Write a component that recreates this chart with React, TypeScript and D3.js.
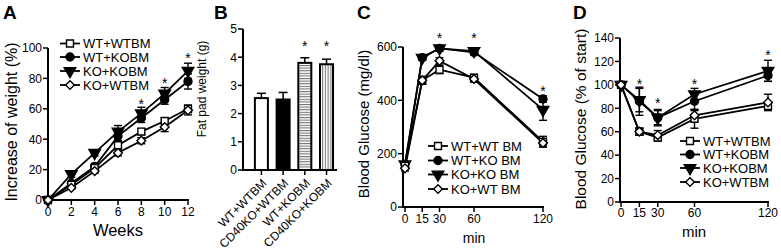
import React from 'react';
import * as d3 from 'd3';

const FONT = "'Liberation Sans', Arial, Helvetica, sans-serif";

// ---------- Panel A data ----------
const weeks = [0, 2, 4, 6, 8, 10, 12];
const aNames = ['WT+WTBM', 'WT+KOBM', 'KO+KOBM', 'KO+WTBM'];
const aWTWT = [0, 10, 21, 36, 45, 52, 60];
const aWTWTerr = [0, 1, 1.5, 2, 2, 2, 2.5];
const aWTKO = [0, 11, 22, 42, 54, 66, 78];
const aWTKOerr = [0, 1, 2, 3, 3, 3, 5];
const aKOKO = [0, 17, 31, 45, 57, 70, 85];
const aKOKOerr = [0, 2, 2, 4, 4, 4, 5];
const aKOWT = [0, 8, 19, 31, 39, 48, 59];
const aKOWTerr = [0, 1, 1.5, 2, 2, 3, 3];
const aStarX = [8, 10, 12];
const aStarY = [65, 79, 95];
const aYTicks = [0, 20, 40, 60, 80, 100];
const aXTicks = [0, 2, 4, 6, 8, 10, 12];

// ---------- Panel B data ----------
const bCats = ['WT+WTBM', 'CD40KO+WTBM', 'WT+KOBM', 'CD40KO+KOBM'];
const bVals = [2.55, 2.5, 3.8, 3.75];
const bErrs = [0.17, 0.25, 0.18, 0.18];
const bStarCats = ['WT+KOBM', 'CD40KO+KOBM'];
const bStarY = [4.5, 4.5];
const bYTicks = [0, 1, 2, 3, 4, 5];

// ---------- Panel C data ----------
const cMin = [0, 15, 30, 60, 120];
const cNames = ['WT+WT BM', 'WT+KO BM', 'KO+KO BM', 'KO+WT BM'];
const cWTWT = [155, 475, 515, 485, 245];
const cWTWTerr = [10, 15, 15, 12, 20];
const cWTKO = [160, 560, 595, 580, 405];
const cWTKOerr = [10, 10, 10, 10, 12];
const cKOKO = [160, 560, 595, 585, 365];
const cKOKOerr = [10, 10, 10, 10, 40];
const cKOWT = [145, 475, 548, 480, 240];
const cKOWTerr = [10, 12, 12, 12, 15];
const cStarX = [30, 60, 120];
const cStarY = [645, 645, 446];
const cYTicks = [0, 200, 400, 600];
const cXTicks = [0, 15, 30, 60, 120];

// ---------- Panel D data ----------
const dMin = [0, 15, 30, 60, 120];
const dNames = ['WT+WTBM', 'WT+KOBM', 'KO+KOBM', 'KO+WTBM'];
const dWTWT = [100, 60, 55, 71, 82];
const dWTWTerr = [0, 3, 3, 8, 3];
const dWTKO = [100, 86, 72, 86, 108];
const dWTKOerr = [0, 12, 7, 8, 5];
const dKOKO = [100, 87, 72, 92, 112];
const dKOKOerr = [0, 10, 6, 5, 9];
const dKOWT = [100, 60, 57, 74, 85];
const dKOWTerr = [0, 3, 4, 5, 7];
const dStarX = [15, 30, 60, 120];
const dStarY = [103, 87, 103, 128];
const dYTicks = [0, 20, 40, 60, 80, 100, 120, 140];
const dXTicks = [0, 15, 30, 60, 120];

type Marker = 'square' | 'circle' | 'triangle' | 'diamond';
const MARKERS: Marker[] = ['square', 'circle', 'triangle', 'diamond'];

function Mark({ m, x, y }: { m: Marker; x: number; y: number }) {
  const filled = m === 'circle' || m === 'triangle';
  const type = m === 'circle' ? d3.symbolCircle : m === 'triangle' ? d3.symbolTriangle : d3.symbolSquare;
  const size = m === 'square' ? 48 : m === 'circle' ? 50 : m === 'triangle' ? 58 : 38;
  let tr = `translate(${x},${y})`;
  if (m === 'triangle') tr += ' rotate(180)';
  if (m === 'diamond') tr += ' rotate(45)';
  return (
    <path
      d={d3.symbol(type, size)() as string}
      transform={tr}
      fill={filled ? '#000' : '#fff'}
      stroke="#000"
      strokeWidth={1.4}
    />
  );
}

interface Series { values: number[]; errs: number[]; marker: Marker; }

interface LineProps {
  xs: number[];
  xScale: d3.ScaleLinear<number, number>;
  yScale: d3.ScaleLinear<number, number>;
  axisX: number;
  series: Series[];
  drawOrder: number[];
  xTicks: number[];
  yTicks: number[];
  starX: number[];
  starY: number[];
  tickFs: number;
  xTickDy: number;
  yLabel: string;
  yLabelX: number;
  yLabelY: number;
  yLabelFs: number;
  xLabel: string;
  xLabelX: number;
  xLabelY: number;
  xLabelFs: number;
  legendNames: string[];
  legendX: number;
  legendYs: number[];
  legendFs: number;
}

function LinePanel(p: LineProps) {
  const y0 = p.yScale.range()[0];
  const yTop = p.yScale.range()[1];
  const xEnd = p.xScale.range()[1];
  const line = d3
    .line<number>()
    .x((_, i) => p.xScale(p.xs[i]))
    .y((d) => p.yScale(d));
  return (
    <g fontFamily={FONT}>
      <line x1={p.axisX} x2={p.axisX} y1={y0 + 1} y2={yTop} stroke="#000" strokeWidth={2} />
      <line x1={p.axisX - 1} x2={xEnd + 1} y1={y0} y2={y0} stroke="#000" strokeWidth={2} />
      {p.yTicks.map((t) => (
        <g key={'y' + t}>
          <line x1={p.axisX - 5} x2={p.axisX} y1={p.yScale(t)} y2={p.yScale(t)} stroke="#000" strokeWidth={1.5} />
          <text x={p.axisX - 6} y={p.yScale(t)} dy="0.36em" textAnchor="end" fontSize={p.tickFs}>
            {t}
          </text>
        </g>
      ))}
      {p.xTicks.map((t) => (
        <g key={'x' + t}>
          <line x1={p.xScale(t)} x2={p.xScale(t)} y1={y0} y2={y0 + 5} stroke="#000" strokeWidth={1.5} />
          <text x={p.xScale(t)} y={y0 + p.xTickDy} textAnchor="middle" fontSize={p.tickFs}>
            {t}
          </text>
        </g>
      ))}
      {p.drawOrder.map((si) => (
        <path key={'l' + si} d={line(p.series[si].values) as string} fill="none" stroke="#000" strokeWidth={1.8} />
      ))}
      {p.drawOrder.map((si) =>
        p.series[si].values.map((v, i) => {
          const e = p.series[si].errs[i];
          if (!e) return null;
          const x = p.xScale(p.xs[i]);
          const yHi = p.yScale(v + e);
          const yLo = p.yScale(v - e);
          return (
            <g key={'e' + si + '-' + i} stroke="#000" strokeWidth={1.4}>
              <line x1={x} x2={x} y1={yHi} y2={yLo} />
              <line x1={x - 4} x2={x + 4} y1={yHi} y2={yHi} />
              <line x1={x - 4} x2={x + 4} y1={yLo} y2={yLo} />
            </g>
          );
        })
      )}
      {p.drawOrder.map((si) =>
        p.series[si].values.map((v, i) => (
          <Mark key={'m' + si + '-' + i} m={p.series[si].marker} x={p.xScale(p.xs[i])} y={p.yScale(v)} />
        ))
      )}
      {p.starX.map((sx, i) => (
        <text key={'s' + i} x={p.xScale(sx)} y={p.yScale(p.starY[i])} dy="0.55em" textAnchor="middle" fontSize={14}>
          *
        </text>
      ))}
      {p.legendNames.map((n, i) => (
        <g key={'lg' + i}>
          <line x1={p.legendX} x2={p.legendX + 20} y1={p.legendYs[i]} y2={p.legendYs[i]} stroke="#000" strokeWidth={1.8} />
          <Mark m={p.series[i].marker} x={p.legendX + 10} y={p.legendYs[i]} />
          <text x={p.legendX + 23} y={p.legendYs[i]} dy="0.36em" fontSize={p.legendFs}>
            {n}
          </text>
        </g>
      ))}
      <text
        transform={`translate(${p.yLabelX},${p.yLabelY}) rotate(-90)`}
        textAnchor="middle"
        dy="0.36em"
        fontSize={p.yLabelFs}
      >
        {p.yLabel}
      </text>
      <text x={p.xLabelX} y={p.xLabelY} textAnchor="middle" fontSize={p.xLabelFs}>
        {p.xLabel}
      </text>
    </g>
  );
}

function PanelB() {
  const y = d3.scaleLinear().domain([0, 5]).range([170, 29]);
  const x = d3.scaleBand<string>().domain(bCats).range([243, 337]).paddingInner(0.4).paddingOuter(0.365).align(0.75);
  const fills = ['#fff', '#000', 'url(#hstripe)', 'url(#vstripe)'];
  const bw = x.bandwidth();
  return (
    <g fontFamily={FONT}>
      <defs>
        <pattern id="hstripe" width="4" height="2.6" patternUnits="userSpaceOnUse">
          <rect width="4" height="2.6" fill="#fff" />
          <line x1="0" x2="4" y1="0.6" y2="0.6" stroke="#555" strokeWidth="0.9" />
        </pattern>
        <pattern id="vstripe" width="2.8" height="4" patternUnits="userSpaceOnUse">
          <rect width="2.8" height="4" fill="#fff" />
          <line x1="0.6" x2="0.6" y1="0" y2="4" stroke="#555" strokeWidth="0.9" />
        </pattern>
      </defs>
      {bCats.map((c, i) => {
        const x0 = x(c) as number;
        const cx = x0 + bw / 2;
        const top = y(bVals[i]);
        const eTop = y(bVals[i] + bErrs[i]);
        return (
          <g key={c}>
            <line x1={cx} x2={cx} y1={top} y2={eTop} stroke="#000" strokeWidth={1.5} />
            <line x1={cx - 4.5} x2={cx + 4.5} y1={eTop} y2={eTop} stroke="#000" strokeWidth={1.5} />
            <rect x={x0} y={top} width={bw} height={170 - top} fill={fills[i]} stroke="#000" strokeWidth={2} />
          </g>
        );
      })}
      <line x1={243} x2={243} y1={171} y2={29} stroke="#000" strokeWidth={2} />
      <line x1={242} x2={337} y1={170} y2={170} stroke="#000" strokeWidth={2} />
      {bYTicks.map((t) => (
        <g key={t}>
          <line x1={238} x2={243} y1={y(t)} y2={y(t)} stroke="#000" strokeWidth={1.5} />
          <text x={237} y={y(t)} dy="0.36em" textAnchor="end" fontSize={12}>
            {t}
          </text>
        </g>
      ))}
      {bCats.map((c) => {
        const cx = (x(c) as number) + bw / 2;
        return (
          <g key={'t' + c}>
            <line x1={cx} x2={cx} y1={170} y2={175} stroke="#000" strokeWidth={1.5} />
            <text transform={`translate(${cx + 6},${184}) rotate(-45)`} textAnchor="end" fontSize={12}>
              {c}
            </text>
          </g>
        );
      })}
      {bStarCats.map((c, i) => (
        <text key={'s' + c} x={(x(c) as number) + bw / 2} y={y(bStarY[i])} dy="0.55em" textAnchor="middle" fontSize={14}>
          *
        </text>
      ))}
      <text transform="translate(202,89) rotate(-90)" textAnchor="middle" dy="0.36em" fontSize={12}>
        Fat pad weight (g)
      </text>
    </g>
  );
}

export default function App() {
  const aX = d3.scaleLinear().domain([0, 12]).range([48, 188]);
  const aY = d3.scaleLinear().domain([0, 100]).range([200, 48]);
  const cX = d3.scaleLinear().domain([0, 120]).range([405, 543]);
  const cY = d3.scaleLinear().domain([0, 600]).range([207, 47]);
  const dX = d3.scaleLinear().domain([0, 120]).range([621, 768]);
  const dY = d3.scaleLinear().domain([0, 140]).range([202, 38]);

  const aSeries: Series[] = [
    { values: aWTWT, errs: aWTWTerr, marker: MARKERS[0] },
    { values: aWTKO, errs: aWTKOerr, marker: MARKERS[1] },
    { values: aKOKO, errs: aKOKOerr, marker: MARKERS[2] },
    { values: aKOWT, errs: aKOWTerr, marker: MARKERS[3] },
  ];
  const cSeries: Series[] = [
    { values: cWTWT, errs: cWTWTerr, marker: MARKERS[0] },
    { values: cWTKO, errs: cWTKOerr, marker: MARKERS[1] },
    { values: cKOKO, errs: cKOKOerr, marker: MARKERS[2] },
    { values: cKOWT, errs: cKOWTerr, marker: MARKERS[3] },
  ];
  const dSeries: Series[] = [
    { values: dWTWT, errs: dWTWTerr, marker: MARKERS[0] },
    { values: dWTKO, errs: dWTKOerr, marker: MARKERS[1] },
    { values: dKOKO, errs: dKOKOerr, marker: MARKERS[2] },
    { values: dKOWT, errs: dKOWTerr, marker: MARKERS[3] },
  ];
  const order = [2, 1, 0, 3];

  return (
    <svg
      width={781}
      height={251}
      viewBox="0 0 781 251"
      style={{ position: 'absolute', left: 0, top: 0, background: '#fff' }}
    >
      <rect width={781} height={251} fill="#fff" />
      <g fontFamily={FONT} fontWeight="bold" fontSize={19}>
        <text x={3} y={19}>A</text>
        <text x={214} y={19}>B</text>
        <text x={357} y={19}>C</text>
        <text x={573} y={19}>D</text>
      </g>
      <LinePanel
        xs={weeks}
        xScale={aX}
        yScale={aY}
        axisX={48}
        series={aSeries}
        drawOrder={order}
        xTicks={aXTicks}
        yTicks={aYTicks}
        starX={aStarX}
        starY={aStarY}
        tickFs={12}
        xTickDy={16}
        yLabel="Increase of weight (%)"
        yLabelX={11}
        yLabelY={122}
        yLabelFs={16}
        xLabel="Weeks"
        xLabelX={118}
        xLabelY={236}
        xLabelFs={16.5}
        legendNames={aNames}
        legendX={60}
        legendYs={[43.5, 57, 71, 85]}
        legendFs={13}
      />
      <PanelB />
      <LinePanel
        xs={cMin}
        xScale={cX}
        yScale={cY}
        axisX={403}
        series={cSeries}
        drawOrder={order}
        xTicks={cXTicks}
        yTicks={cYTicks}
        starX={cStarX}
        starY={cStarY}
        tickFs={12}
        xTickDy={16}
        yLabel="Blood Glucose (mg/dl)"
        yLabelX={364}
        yLabelY={124}
        yLabelFs={15}
        xLabel="min"
        xLabelX={474}
        xLabelY={243}
        xLabelFs={14}
        legendNames={cNames}
        legendX={428}
        legendYs={[146, 160.5, 174.5, 189]}
        legendFs={13}
      />
      <LinePanel
        xs={dMin}
        xScale={dX}
        yScale={dY}
        axisX={620}
        series={dSeries}
        drawOrder={order}
        xTicks={dXTicks}
        yTicks={dYTicks}
        starX={dStarX}
        starY={dStarY}
        tickFs={12}
        xTickDy={15}
        yLabel="Blood Glucose (% of start)"
        yLabelX={580}
        yLabelY={119}
        yLabelFs={15.5}
        xLabel="min"
        xLabelX={694}
        xLabelY={237}
        xLabelFs={15}
        legendNames={dNames}
        legendX={680}
        legendYs={[141, 154.5, 168, 182]}
        legendFs={13}
      />
    </svg>
  );
}
